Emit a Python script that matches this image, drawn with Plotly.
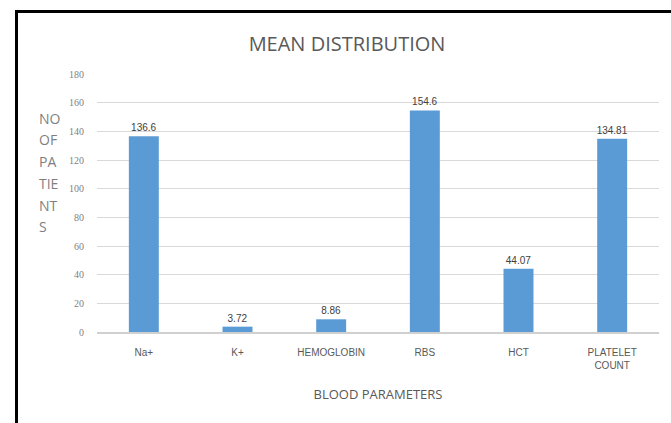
import plotly.graph_objects as go

categories = ["Na+", "K+", "HEMOGLOBIN", "RBS", "HCT", "PLATELET<br>COUNT"]
means = [136.6, 3.72, 8.86, 154.6, 44.07, 134.81]
value_labels = ["136.6", "3.72", "8.86", "154.6", "44.07", "134.81"]
y_ticks = [0, 20, 40, 60, 80, 100, 120, 140, 160, 180]
y_title_lines = ["NO", "OF", "PA", "TIE", "NT", "S"]

W, H = 671, 423
L, R, T, B = 97, 12, 74, 91
pw, ph = W - L - R, H - T - B

def px_x(x):
    return (x - L) / pw

def px_y(y):
    return (H - B - y) / ph

fig = go.Figure()
fig.add_trace(go.Bar(
    x=categories, y=means,
    marker=dict(color="#5B9BD5", line=dict(width=0)),
    text=value_labels, textposition="outside", constraintext="none",
    textfont=dict(family="Liberation Sans", size=10, color="#404040"),
    cliponaxis=False,
))

annotations = []
for i, line in enumerate(y_title_lines):
    annotations.append(dict(
        text=line, xref="paper", yref="paper",
        x=px_x(37), y=px_y(118 + i * 21.8),
        xanchor="left", yanchor="middle", showarrow=False,
        font=dict(family="Open Sans", size=14, color="#7f7f7f"),
    ))

fig.update_layout(
    width=W, height=H,
    margin=dict(l=L, r=R, t=T, b=B, pad=0),
    paper_bgcolor="white", plot_bgcolor="white",
    bargap=0.68,
    showlegend=False,
    title=dict(text="MEAN DISTRIBUTION", x=347 / W, xanchor="center",
               y=1 - 44 / H, yanchor="middle",
               font=dict(family="Open Sans", size=20, color="#595959")),
    xaxis=dict(
        showgrid=False, showline=True, linecolor="#d0d0d0", linewidth=1.5,
        ticks="", tickfont=dict(family="Liberation Sans", size=10, color="#595959"),
        ticklabelstandoff=10,
        title=dict(text="BLOOD PARAMETERS", standoff=20,
                   font=dict(family="Open Sans", size=13, color="#595959")),
    ),
    yaxis=dict(
        range=[0, 180], tickvals=y_ticks, showgrid=True, gridcolor="#d9d9d9",
        gridwidth=1, zeroline=False, showline=False, ticks="",
        tickfont=dict(family="Liberation Serif", size=10, color="#7f7f7f"),
        ticklabelstandoff=12,
    ),
    annotations=annotations,
    shapes=[dict(type="rect", xref="paper", yref="paper",
                 x0=px_x(16.5), x1=px_x(690), y0=px_y(440), y1=px_y(11.5),
                 line=dict(color="black", width=3), fillcolor="rgba(0,0,0,0)",
                 layer="above")],
)

fig.write_html(
    "out.html",
    config={"displayModeBar": False},
    post_script="document.body.style.margin='0';document.body.style.padding='0';document.body.style.overflow='hidden';",
)
